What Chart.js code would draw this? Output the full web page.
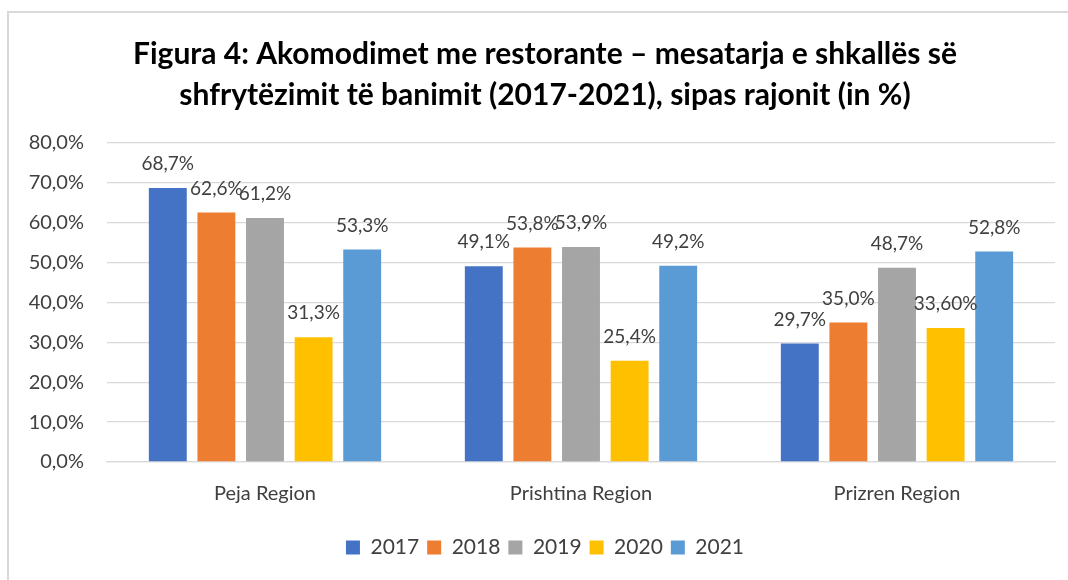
<!DOCTYPE html>
<html>
<head>
<meta charset="utf-8">
<script src="https://cdn.jsdelivr.net/npm/chart.js@4.4.1/dist/chart.umd.min.js"></script>
<style>
  html, body { margin: 0; padding: 0; background: #ffffff; overflow: hidden; width: 1068px; height: 580px; }
  #frame { position: absolute; left: 7px; top: 11px; width: 1100px; height: 620px; border: 2px solid #d9d9d9; box-sizing: border-box; }
  #wrap { position: absolute; left: 7px; top: 0px; width: 1080px; height: 580px; }
</style>
</head>
<body>
<div id="frame"></div>
<div id="wrap"><canvas id="c" width="1080" height="580"></canvas></div>
<script>
const titleLines = ["Figura 4: Akomodimet me restorante – mesatarja e shkallës së", "shfrytëzimit të banimit (2017-2021), sipas rajonit (in %)"];
const categories = ["Peja Region", "Prishtina Region", "Prizren Region"];
const years = ["2017", "2018", "2019", "2020", "2021"];
const values2017 = [68.7, 49.1, 29.7];
const values2018 = [62.6, 53.8, 35.0];
const values2019 = [61.2, 53.9, 48.7];
const values2020 = [31.3, 25.4, 33.6];
const values2021 = [53.3, 49.2, 52.8];
const shown2017 = ["68,7%", "49,1%", "29,7%"];
const shown2018 = ["62,6%", "53,8%", "35,0%"];
const shown2019 = ["61,2%", "53,9%", "48,7%"];
const shown2020 = ["31,3%", "25,4%", "33,60%"];
const shown2021 = ["53,3%", "49,2%", "52,8%"];
const colors = ["#4472C4", "#ED7D31", "#A5A5A5", "#FFC000", "#5B9BD5"];
const yMin = 0, yMax = 80, yStep = 10;

const seriesValues = [values2017, values2018, values2019, values2020, values2021];
const seriesShown = [shown2017, shown2018, shown2019, shown2020, shown2021];

const FONT = "Lato, 'Open Sans', sans-serif";
const TXT = "#404040";

const valueLabels = {
  id: 'valueLabels',
  afterDatasetsDraw(chart) {
    const ctx = chart.ctx;
    ctx.save();
    ctx.font = "19px " + FONT;
    ctx.fillStyle = TXT;
    ctx.textAlign = "center";
    ctx.textBaseline = "middle";
    chart.data.datasets.forEach((ds, di) => {
      const meta = chart.getDatasetMeta(di);
      meta.data.forEach((bar, i) => {
        ctx.fillText(seriesShown[di][i], bar.x, bar.y - 24);
      });
    });
    ctx.restore();
  }
};

// let the y tick labels extend left of the layout padding without being clipped
const unclipY = {
  id: 'unclipY',
  afterLayout(chart) { chart.scales.y.left = 0; }
};

new Chart(document.getElementById('c'), {
  type: 'bar',
  data: {
    labels: categories,
    datasets: years.map((y, i) => ({
      label: y,
      data: seriesValues[i],
      backgroundColor: colors[i],
      borderWidth: 0,
      categoryPercentage: 0.769,
      barPercentage: 0.78
    }))
  },
  options: {
    responsive: false,
    animation: false,
    devicePixelRatio: 1,
    layout: { padding: { left: 28, right: 32, top: 0, bottom: 12 } },
    plugins: {
      title: {
        display: true,
        text: titleLines,
        color: "#000000",
        font: { family: FONT, size: 30, weight: "bold", lineHeight: 41 / 30 },
        padding: { top: 34, bottom: 27 }
      },
      legend: {
        position: 'bottom',
        labels: {
          boxWidth: 14,
          boxHeight: 14,
          padding: 8,
          color: TXT,
          font: { family: FONT, size: 21 }
        }
      },
      tooltip: { enabled: false }
    },
    scales: {
      x: {
        grid: { display: false, drawTicks: false },
        border: { display: true, color: "#d9d9d9", width: 1.3 },
        ticks: { color: TXT, font: { family: FONT, size: 20 }, padding: 20 },
        afterFit(s) { s.height = 67; }
      },
      y: {
        min: yMin, max: yMax,
        grid: { color: "#d9d9d9", lineWidth: 1.3, drawTicks: false },
        border: { display: false },
        ticks: {
          stepSize: yStep,
          color: TXT,
          padding: 23,
          font: { family: FONT, size: 20 },
          callback: v => v.toFixed(1).replace('.', ',') + '%'
        },
        afterFit(s) { s.width = 72; }
      }
    }
  },
  plugins: [valueLabels, unclipY]
});
</script>
</body>
</html>
